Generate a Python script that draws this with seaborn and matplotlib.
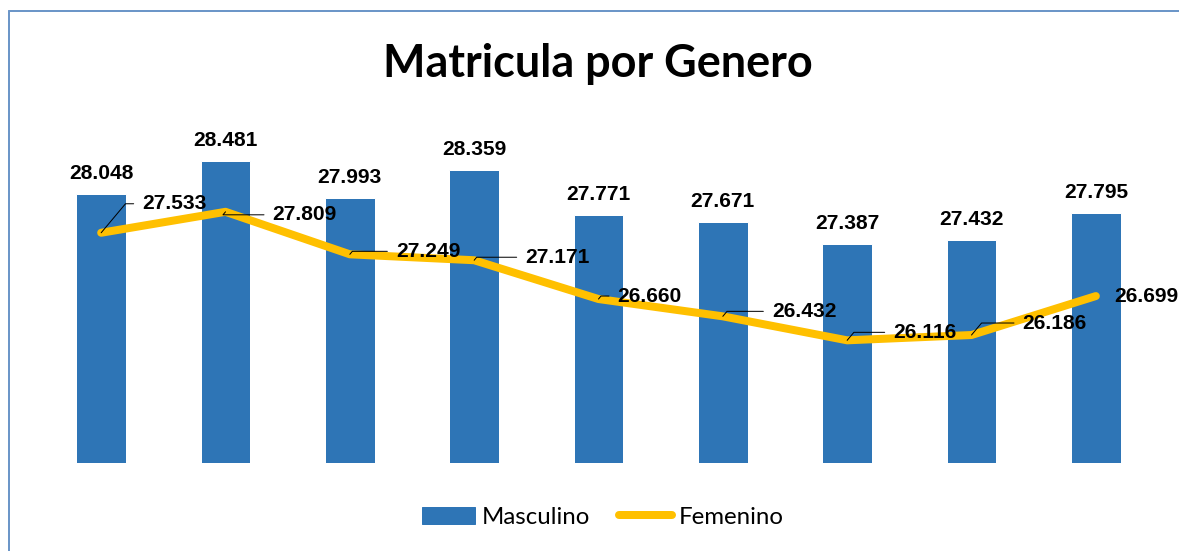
import matplotlib
matplotlib.use("Agg")
import matplotlib.pyplot as plt
from matplotlib.lines import Line2D
import seaborn as sns
import pandas as pd
import numpy as np

# ---- data ----
categories = ["1", "2", "3", "4", "5", "6", "7", "8", "9"]
masculino = [28048, 28481, 27993, 28359, 27771, 27671, 27387, 27432, 27795]
femenino = [27533, 27809, 27249, 27171, 26660, 26432, 26116, 26186, 26699]
title = "Matricula por Genero"
series_names = ["Masculino", "Femenino"]

# label offsets for line labels (px/pt at dpi 72)
fem_offsets = [(41, 29), (47, -3), (46, 3), (51, 3), (19, 3), (49, 5), (46, 8), (51, 12), (18, 0)]
fem_leader = [True, True, True, True, True, True, True, True, False]

BLUE = "#2E75B6"
GOLD = "#FFC000"

sns.set_style("white")
plt.rcParams["font.family"] = ["Liberation Sans", "DejaVu Sans"]
plt.rcParams["text.color"] = "black"

DPI = 72
fig = plt.figure(figsize=(1179 / DPI, 551 / DPI), dpi=DPI)
ax = fig.add_axes([39 / 1179, 88 / 551, (1158 - 39) / 1179, 341.6 / 551])

df = pd.DataFrame({"cat": categories, "Masculino": masculino, "Femenino": femenino})
sns.barplot(data=df, x="cat", y="Masculino", color=BLUE, saturation=1, width=0.4, ax=ax,
            label=series_names[0])
xpos = np.arange(len(categories))
sns.lineplot(x=xpos, y=femenino, color=GOLD, linewidth=8, ax=ax, label=series_names[1],
             solid_capstyle="round", solid_joinstyle="round")

ax.set_ylim(24500, 29000)
ax.set_xlim(-0.5, len(categories) - 0.5)
for s in ax.spines.values():
    s.set_visible(False)
ax.set_xticks([])
ax.set_yticks([])
ax.set_xlabel("")
ax.set_ylabel("")


def fmt(v):
    return f"{v:,}".replace(",", ".")


ax.bar_label(ax.containers[0], labels=[fmt(v) for v in masculino], padding=11,
             fontsize=21, fontweight="bold", color="black")

for i, v in enumerate(femenino):
    dx, dy = fem_offsets[i]
    ap = None
    if fem_leader[i]:
        ap = dict(arrowstyle="-", color="black", lw=1, relpos=(0, 0.5),
                  connectionstyle="angle,angleA=0,angleB=50,rad=0", shrinkA=6, shrinkB=0)
    ax.annotate(fmt(v), xy=(i, v), xytext=(dx, dy), textcoords="offset points",
                ha="left", va="center", fontsize=21, fontweight="bold", color="black",
                arrowprops=ap, annotation_clip=False)

fig.text(598 / 1179, 1 - 77 / 551, title, ha="center", va="baseline", fontsize=45,
         fontweight="bold", color="black", family=["Lato", "DejaVu Sans"])

handles = [plt.Rectangle((0, 0), 1, 1, color=BLUE),
           Line2D([0], [0], color=GOLD, lw=8, solid_capstyle="round")]
leg = ax.legend(handles, series_names, loc="center", bbox_to_anchor=(603 / 1179, 1 - 517 / 551),
                bbox_transform=fig.transFigure, ncol=2, frameon=False,
                prop={"family": ["Lato", "DejaVu Sans"], "size": 24},
                handlelength=2.2, handletextpad=0.3, columnspacing=1.2)
for t in leg.get_texts():
    t.set_color("black")

# chart border (partially cropped)
bc = "#6C96C8"
fig.add_artist(Line2D([9 / 1179, 9 / 1179], [0, 1 - 11 / 551], color=bc, lw=2,
                      transform=fig.transFigure))
fig.add_artist(Line2D([9 / 1179, 1], [1 - 11 / 551, 1 - 11 / 551], color=bc, lw=2,
                      transform=fig.transFigure))

fig.savefig("out.png", dpi=DPI)
